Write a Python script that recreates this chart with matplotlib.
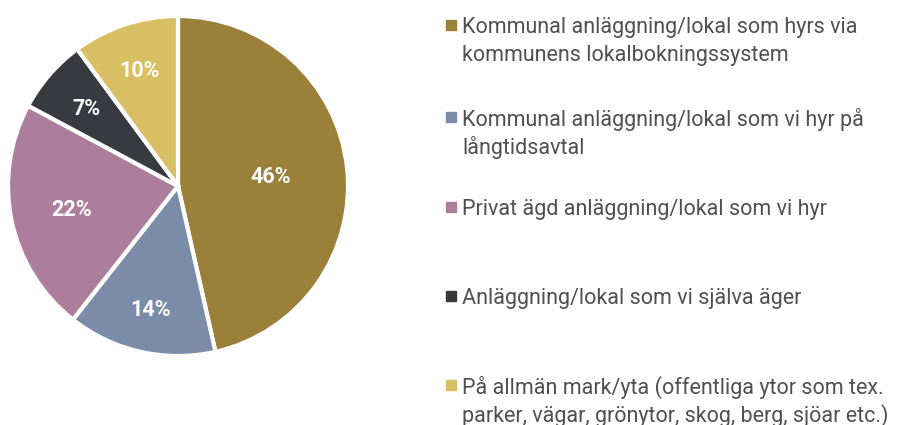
import numpy as np
import matplotlib
matplotlib.use("Agg")
from matplotlib import pyplot as plt
from matplotlib.patches import Rectangle

# data
categories = [
    "Kommunal anläggning/lokal som hyrs via\nkommunens lokalbokningssystem",
    "Kommunal anläggning/lokal som vi hyr på\nlångtidsavtal",
    "Privat ägd anläggning/lokal som vi hyr",
    "Anläggning/lokal som vi själva äger",
    "På allmän mark/yta (offentliga ytor som tex.\nparker, vägar, grönytor, skog, berg, sjöar etc.)",
]
values = [46, 14, 22, 7, 10]
colors = ["#9B8039", "#7B8CA8", "#AD7E9C", "#373A3F", "#D8BF63"]

# label distance from centre per slice
label_dist = [0.55, 0.74, 0.64, 0.71, 0.72]
legend_y = [25, 117, 207, 296, 385]   # pixel rows of legend entries

W, H = 906, 425
fig = plt.figure(figsize=(W / 100, H / 100), dpi=100)

cx, cy, r = 178, 186, 170
ax = fig.add_axes([(cx - r) / W, (H - cy - r) / H, 2 * r / W, 2 * r / H])
wedges, _ = ax.pie(values, colors=colors, startangle=90, counterclock=False,
                   wedgeprops=dict(edgecolor="white", linewidth=3))
ax.set_xlim(-1, 1)
ax.set_ylim(-1, 1)
ax.set_aspect("equal")

for w, v, d in zip(wedges, values, label_dist):
    ang = np.deg2rad((w.theta1 + w.theta2) / 2)
    ax.text(d * np.cos(ang), d * np.sin(ang) - 0.01, f"{v}%", color="white",
            fontsize=15.5, fontweight="bold", family="Roboto",
            ha="center", va="center")

# legend drawn in pixel space
lax = fig.add_axes([0, 0, 1, 1])
lax.set_xlim(0, W)
lax.set_ylim(H, 0)
lax.axis("off")
for lab, col, y in zip(categories, colors, legend_y):
    lax.add_patch(Rectangle((446, y - 5), 10, 10, color=col))
    for i, line in enumerate(lab.split("\n")):
        lax.text(462, y + i * 28, line, color="#505050", fontsize=15.5,
                 family="Roboto", ha="left", va="center_baseline")

fig.savefig("out.png", dpi=100)
